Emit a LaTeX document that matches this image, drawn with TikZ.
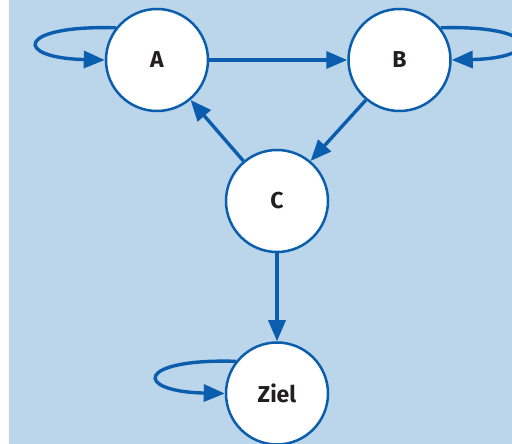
\documentclass[tikz,border=0pt]{standalone}
\usepackage{fontspec}
\setmainfont{Fira Sans}
\usetikzlibrary{arrows.meta, positioning}

\definecolor{bgblue}{HTML}{BBD5EA}
\definecolor{lineblue}{HTML}{0B5DAE}
\definecolor{textdark}{HTML}{231F20}

\begin{document}
\begin{tikzpicture}[
  x=1pt, y=1pt,
  node distance = 138pt and 138pt,
  state/.style = {draw=lineblue, circle, line width=2.5pt, fill=white,
                  minimum size=102pt, inner sep=0pt, text=textdark,
                  font=\fontsize{23}{27}\selectfont\bfseries},
  arr/.style   = {-{Triangle[length=21pt, width=17pt]}, line width=3.4pt,
                  draw=lineblue},
  loopl/.style = {arr}
]
\useasboundingbox (0,0) rectangle (512,444);
\clip (0,0) rectangle (512,444);
\fill[bgblue] (9,0) rectangle (512,444);

\node[state] (A) at (157,384) {A};
\node[state, right=of A] (B) {B};
\node[state] (C) at (277,243) {C};
\node[state, below=88pt of C] (ziel) {Ziel};

\draw[arr] (A.east) -- (B.west);
\draw[arr] (B.230) -- (C.50);
\draw[arr] (C.130) -- (A.310);
\draw[arr] (C.south) -- (ziel.north);

% self loops
\draw[loopl] (A.142) .. controls +(-100,3) and +(-92,2) .. (A.west);
\draw[loopl] (B.38) .. controls +(100,3) and +(92,2) .. (B.east);
\draw[loopl] (ziel.142) .. controls +(-100,3) and +(-92,2) .. (ziel.west);

\end{tikzpicture}
\end{document}
